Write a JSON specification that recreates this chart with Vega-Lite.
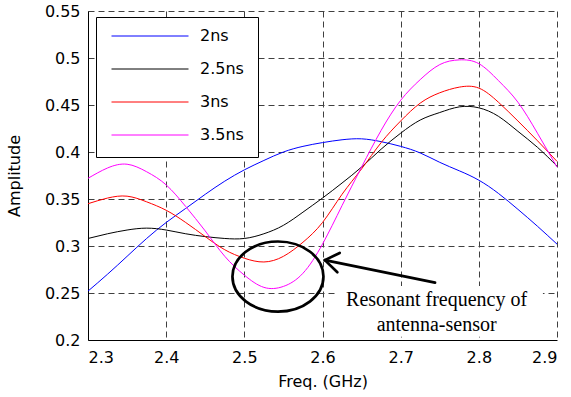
{
  "$schema": "https://vega.github.io/schema/vega-lite/v6.json",
  "width": 469,
  "height": 329,
  "autosize": {"type": "none"},
  "padding": {"left": 88, "top": 11, "right": 14, "bottom": 57},
  "background": "white",
  "config": {
    "view": {"stroke": null},
    "font": "DejaVu Sans",
    "axis": {
      "labelFont": "DejaVu Sans",
      "labelFontSize": 16,
      "labelColor": "black",
      "titleFont": "DejaVu Sans",
      "titleFontSize": 16,
      "titleFontWeight": "normal",
      "titleColor": "black",
      "domainColor": "black",
      "domainWidth": 1,
      "ticks": false,
      "grid": true,
      "gridColor": "#404040",
      "gridDash": [6, 4],
      "gridWidth": 1,
      "gridOpacity": 1
    },
    "legend": {
      "labelFont": "DejaVu Sans",
      "labelFontSize": 16,
      "labelColor": "black"
    }
  },
  "layer": [
    {
      "data": {
        "values": [
          {"f": 2.3, "a": 0.252, "s": "2ns"}, {"f": 2.325, "a": 0.27, "s": "2ns"}, {"f": 2.35, "a": 0.289, "s": "2ns"}, {"f": 2.375, "a": 0.308, "s": "2ns"}, {"f": 2.4, "a": 0.325, "s": "2ns"}, {"f": 2.425, "a": 0.34, "s": "2ns"}, {"f": 2.45, "a": 0.355, "s": "2ns"}, {"f": 2.475, "a": 0.369, "s": "2ns"}, {"f": 2.5, "a": 0.381, "s": "2ns"}, {"f": 2.525, "a": 0.391, "s": "2ns"}, {"f": 2.55, "a": 0.4, "s": "2ns"}, {"f": 2.575, "a": 0.406, "s": "2ns"}, {"f": 2.6, "a": 0.41, "s": "2ns"}, {"f": 2.625, "a": 0.413, "s": "2ns"}, {"f": 2.65, "a": 0.414, "s": "2ns"}, {"f": 2.675, "a": 0.411, "s": "2ns"}, {"f": 2.7, "a": 0.406, "s": "2ns"}, {"f": 2.725, "a": 0.399, "s": "2ns"}, {"f": 2.75, "a": 0.389, "s": "2ns"}, {"f": 2.775, "a": 0.38, "s": "2ns"}, {"f": 2.8, "a": 0.37, "s": "2ns"}, {"f": 2.825, "a": 0.356, "s": "2ns"}, {"f": 2.85, "a": 0.339, "s": "2ns"}, {"f": 2.875, "a": 0.321, "s": "2ns"}, {"f": 2.9, "a": 0.302, "s": "2ns"},
          {"f": 2.3, "a": 0.308, "s": "2.5ns"}, {"f": 2.325, "a": 0.313, "s": "2.5ns"}, {"f": 2.35, "a": 0.317, "s": "2.5ns"}, {"f": 2.375, "a": 0.319, "s": "2.5ns"}, {"f": 2.4, "a": 0.317, "s": "2.5ns"}, {"f": 2.425, "a": 0.313, "s": "2.5ns"}, {"f": 2.45, "a": 0.31, "s": "2.5ns"}, {"f": 2.475, "a": 0.308, "s": "2.5ns"}, {"f": 2.5, "a": 0.308, "s": "2.5ns"}, {"f": 2.525, "a": 0.313, "s": "2.5ns"}, {"f": 2.55, "a": 0.322, "s": "2.5ns"}, {"f": 2.575, "a": 0.336, "s": "2.5ns"}, {"f": 2.6, "a": 0.351, "s": "2.5ns"}, {"f": 2.625, "a": 0.367, "s": "2.5ns"}, {"f": 2.65, "a": 0.384, "s": "2.5ns"}, {"f": 2.675, "a": 0.403, "s": "2.5ns"}, {"f": 2.7, "a": 0.42, "s": "2.5ns"}, {"f": 2.725, "a": 0.434, "s": "2.5ns"}, {"f": 2.75, "a": 0.442, "s": "2.5ns"}, {"f": 2.775, "a": 0.448, "s": "2.5ns"}, {"f": 2.8, "a": 0.447, "s": "2.5ns"}, {"f": 2.825, "a": 0.438, "s": "2.5ns"}, {"f": 2.85, "a": 0.422, "s": "2.5ns"}, {"f": 2.875, "a": 0.405, "s": "2.5ns"}, {"f": 2.9, "a": 0.385, "s": "2.5ns"},
          {"f": 2.3, "a": 0.345, "s": "3ns"}, {"f": 2.325, "a": 0.351, "s": "3ns"}, {"f": 2.35, "a": 0.353, "s": "3ns"}, {"f": 2.375, "a": 0.347, "s": "3ns"}, {"f": 2.4, "a": 0.338, "s": "3ns"}, {"f": 2.425, "a": 0.325, "s": "3ns"}, {"f": 2.45, "a": 0.31, "s": "3ns"}, {"f": 2.475, "a": 0.296, "s": "3ns"}, {"f": 2.5, "a": 0.287, "s": "3ns"}, {"f": 2.525, "a": 0.283, "s": "3ns"}, {"f": 2.55, "a": 0.289, "s": "3ns"}, {"f": 2.575, "a": 0.304, "s": "3ns"}, {"f": 2.6, "a": 0.325, "s": "3ns"}, {"f": 2.625, "a": 0.355, "s": "3ns"}, {"f": 2.65, "a": 0.382, "s": "3ns"}, {"f": 2.675, "a": 0.41, "s": "3ns"}, {"f": 2.7, "a": 0.433, "s": "3ns"}, {"f": 2.725, "a": 0.452, "s": "3ns"}, {"f": 2.75, "a": 0.463, "s": "3ns"}, {"f": 2.775, "a": 0.469, "s": "3ns"}, {"f": 2.8, "a": 0.468, "s": "3ns"}, {"f": 2.825, "a": 0.453, "s": "3ns"}, {"f": 2.85, "a": 0.433, "s": "3ns"}, {"f": 2.875, "a": 0.412, "s": "3ns"}, {"f": 2.9, "a": 0.39, "s": "3ns"},
          {"f": 2.3, "a": 0.372, "s": "3.5ns"}, {"f": 2.325, "a": 0.383, "s": "3.5ns"}, {"f": 2.35, "a": 0.387, "s": "3.5ns"}, {"f": 2.375, "a": 0.379, "s": "3.5ns"}, {"f": 2.4, "a": 0.365, "s": "3.5ns"}, {"f": 2.425, "a": 0.342, "s": "3.5ns"}, {"f": 2.45, "a": 0.316, "s": "3.5ns"}, {"f": 2.475, "a": 0.289, "s": "3.5ns"}, {"f": 2.5, "a": 0.269, "s": "3.5ns"}, {"f": 2.525, "a": 0.256, "s": "3.5ns"}, {"f": 2.55, "a": 0.257, "s": "3.5ns"}, {"f": 2.575, "a": 0.271, "s": "3.5ns"}, {"f": 2.6, "a": 0.302, "s": "3.5ns"}, {"f": 2.625, "a": 0.343, "s": "3.5ns"}, {"f": 2.65, "a": 0.384, "s": "3.5ns"}, {"f": 2.675, "a": 0.423, "s": "3.5ns"}, {"f": 2.7, "a": 0.455, "s": "3.5ns"}, {"f": 2.725, "a": 0.477, "s": "3.5ns"}, {"f": 2.75, "a": 0.493, "s": "3.5ns"}, {"f": 2.775, "a": 0.498, "s": "3.5ns"}, {"f": 2.8, "a": 0.494, "s": "3.5ns"}, {"f": 2.825, "a": 0.476, "s": "3.5ns"}, {"f": 2.85, "a": 0.453, "s": "3.5ns"}, {"f": 2.875, "a": 0.42, "s": "3.5ns"}, {"f": 2.9, "a": 0.384, "s": "3.5ns"}
        ]
      },
      "mark": {"type": "line", "strokeWidth": 1, "interpolate": "natural"},
      "encoding": {
        "x": {
          "field": "f", "type": "quantitative",
          "scale": {"domain": [2.3, 2.9], "nice": false, "zero": false},
          "axis": {"title": "Freq. (GHz)", "values": [2.3, 2.4, 2.5, 2.6, 2.7, 2.8, 2.9], "format": ".1f", "labelPadding": 9, "titlePadding": 8}
        },
        "y": {
          "field": "a", "type": "quantitative",
          "scale": {"domain": [0.2, 0.55], "nice": false, "zero": false},
          "axis": {"title": "Amplitude", "values": [0.2, 0.25, 0.3, 0.35, 0.4, 0.45, 0.5, 0.55], "format": "~g", "labelPadding": 8, "titlePadding": 22}
        },
        "color": {
          "field": "s", "type": "nominal",
          "scale": {"domain": ["2ns", "2.5ns", "3ns", "3.5ns"], "range": ["#0000ff", "#000000", "#ff0000", "#ff00ff"]},
          "legend": {
            "title": null,
            "orient": "none",
            "legendX": 8,
            "legendY": 6,
            "symbolType": "stroke",
            "symbolSize": 5929,
            "symbolStrokeWidth": 1,
            "clipHeight": 10,
            "rowPadding": 17,
            "padding": 14,
            "symbolOffset": 1,
            "labelOffset": 11,
            "strokeColor": "black",
            "fillColor": "white"
          }
        }
      }
    },
    {
      "data": {"values": [{"f": 2.543, "a": 0.2675}]},
      "mark": {"type": "point", "shape": "M-1,0A1,0.77,0,1,1,1,0A1,0.77,0,1,1,-1,0Z", "size": 8281, "filled": false, "stroke": "black", "strokeWidth": 2.7, "opacity": 1},
      "encoding": {
        "x": {"field": "f", "type": "quantitative"},
        "y": {"field": "a", "type": "quantitative"}
      }
    },
    {
      "data": {"values": [
        {"f": 2.744, "a": 0.261, "f2": 2.603, "a2": 0.285},
        {"f": 2.603, "a": 0.285, "f2": 2.622, "a2": 0.2926},
        {"f": 2.603, "a": 0.285, "f2": 2.619, "a2": 0.272}
      ]},
      "mark": {"type": "rule", "stroke": "black", "strokeWidth": 2.7, "strokeCap": "round"},
      "encoding": {
        "x": {"field": "f", "type": "quantitative"},
        "y": {"field": "a", "type": "quantitative"},
        "x2": {"field": "f2"},
        "y2": {"field": "a2"}
      }
    },
    {
      "data": {"values": [{"f": 2.617, "a": 0.2575, "f2": 2.882, "a2": 0.2035}]},
      "mark": {"type": "rect", "fill": "white"},
      "encoding": {
        "x": {"field": "f", "type": "quantitative"},
        "y": {"field": "a", "type": "quantitative"},
        "x2": {"field": "f2"},
        "y2": {"field": "a2"}
      }
    },
    {
      "data": {"values": [
        {"f": 2.746, "a": 0.2425, "t": "Resonant frequency of"},
        {"f": 2.746, "a": 0.2155, "t": "antenna-sensor"}
      ]},
      "mark": {"type": "text", "font": "Liberation Serif", "fontSize": 20, "color": "black", "align": "center", "baseline": "middle"},
      "encoding": {
        "x": {"field": "f", "type": "quantitative"},
        "y": {"field": "a", "type": "quantitative"},
        "text": {"field": "t"}
      }
    }
  ]
}
